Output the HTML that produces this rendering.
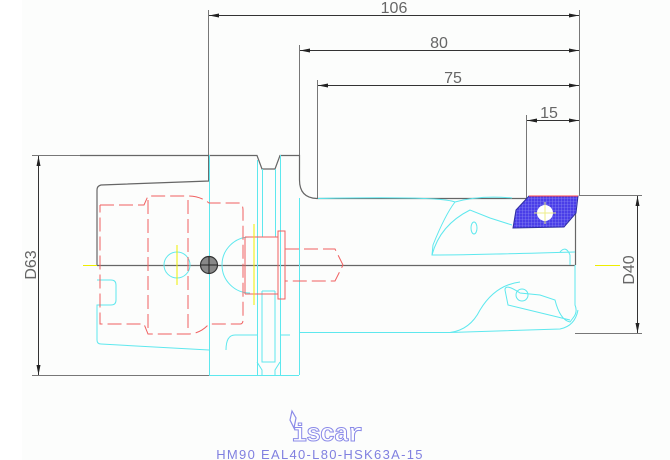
<!DOCTYPE html>
<html><head><style>body{margin:0;background:#fff}svg{display:block}</style></head><body>
<svg width="670" height="460" viewBox="0 0 670 460" xmlns="http://www.w3.org/2000/svg" font-family="Liberation Sans, sans-serif">
<rect x="22" y="0" width="648" height="460" fill="#fcfdfc"/>
<defs>
<marker id="a" viewBox="0 0 10 4" refX="10" refY="2" markerWidth="10" markerHeight="4" orient="auto-start-reverse" markerUnits="userSpaceOnUse"><path d="M0,0L10,2L0,4z" fill="#222"/></marker>
<pattern id="h" width="3" height="3" patternUnits="userSpaceOnUse"><rect width="3" height="3" fill="#4a3ee8"/><path d="M0,0H3M0,0V3" stroke="#9a9af5" stroke-width="0.6"/></pattern>
</defs>
<g stroke="#777" stroke-width="1" fill="none">
<path d="M208.5,10V181M299.5,45V160M317.5,80V198M526.5,115V198M579.5,10V196"/>
<path d="M32,155.5H110M32,375.5H209M579,195.5H642M575,333.5H642"/>
</g>
<g stroke="#333" stroke-width="1" fill="none">
<path d="M209,15.5H579" marker-start="url(#a)" marker-end="url(#a)"/>
<path d="M300,50.5H579" marker-start="url(#a)" marker-end="url(#a)"/>
<path d="M318,85.5H579" marker-start="url(#a)" marker-end="url(#a)"/>
<path d="M527,120.5H579" marker-start="url(#a)" marker-end="url(#a)"/>
<path d="M38.5,156V375" marker-start="url(#a)" marker-end="url(#a)"/>
<path d="M637.5,196V333" marker-start="url(#a)" marker-end="url(#a)"/>
</g>
<g fill="#666" font-size="16" text-anchor="middle">
<text x="394" y="13">106</text>
<text x="439" y="48">80</text>
<text x="453" y="83">75</text>
<text x="549" y="118">15</text>
<text transform="translate(36,265) rotate(-90)">D63</text>
<text transform="translate(634,270) rotate(-90)">D40</text>
</g>
<path d="M83,265.5H97M595,265.5H620" stroke="#ee0" stroke-width="1"/>
<path d="M97,265.5H575" stroke="#666" stroke-width="1.2"/>
<g stroke="#666" stroke-width="1.2" fill="none">
<path d="M80,155.5H257L262,169H275L280,155.5H299.5V180Q299.5,198 317,198.5H527"/>
<path d="M209,155V181L101,185Q97,186 97,190V265"/>
<path d="M575.5,198V265"/>
</g>
<g stroke="#5ee8ee" stroke-width="1" fill="none">
<path d="M209.5,155V375M257.5,160V375M262.5,169V237M275.5,169V237M280.5,155V375M299.5,198V375"/>
<path d="M262,291V362H275V291M262,237H275M262,291H275"/>
<path d="M257,362L262,370V375M280,362L275,370V375"/>
<path d="M209,375.5H299"/>
<path d="M97,280H111Q116,280 116,285V300Q116,305 111,305H97V340Q97,344 101,344L209,350"/>
<path d="M226,350Q226,335 235,335H257M280,335H290M299,332.5H450Q470,330 480,310Q495,285 520,282"/>
<circle cx="177" cy="265" r="13"/>
<path d="M250,237A28,28 0 0 0 250,293"/>
<path d="M318,198.5Q440,196 455,202Q445,215 433,245L432,255Q470,255 575,252"/>
<path d="M455,202Q480,195 512,198M432,255Q440,225 470,210L490,218L512,225"/>
<ellipse cx="474" cy="228" rx="3" ry="6"/>
<path d="M560,252Q566,245 570,255V265"/>
<path d="M575,265V305Q578,312 573,318L570,322Q560,320 555,300L540,295L520,293Q505,283 505,290L508,305L570,320"/>
<path d="M450,332.5L560,329Q575,326 578,310"/>
<circle cx="522" cy="295" r="6"/>
</g>
<g stroke="#f06060" stroke-width="1" fill="none" stroke-dasharray="14,5">
<path d="M100,205H144L148,196H188Q200,196 209,203H240Q243,205 243,210V320Q243,324 240,324H209Q200,334 188,334H148L144,324H100V205"/>
<path d="M148,200V330M188,200V330"/>
<path d="M285,249H335L343,265L335,281H285"/>
</g>
<g stroke="#f06060" stroke-width="1" fill="none">
<path d="M245,237H278V231H285V299H278V294H245"/>
<path d="M278,237V294"/>
<path d="M245,237V294"/>
</g>
<path d="M177,245V285M254,224V305" stroke="#ee0" stroke-width="1"/>
<circle cx="209" cy="265" r="8.5" fill="#888" stroke="#333" stroke-width="1.2"/>
<path d="M200.5,265H217.5M209,256.5V273.5" stroke="#222" stroke-width="1"/>
<path d="M529,196H578L576,213L564,227L513,228L516,210Z" fill="url(#h)" stroke="#3030a0" stroke-width="1"/>
<path d="M529,196H578" stroke="#f44" stroke-width="1"/>
<circle cx="545" cy="213" r="8" fill="#fff"/>
<path d="M534,213H556M545,202V224" stroke="#ee8" stroke-width="1"/>
<path d="M292,411L296,418L294,428L290,420Z" fill="none" stroke="#8a8ae8" stroke-width="1.2"/>
<text x="327" y="441" text-anchor="middle" font-size="25" font-weight="bold" fill="#fff" stroke="#8a8ae8" stroke-width="1" letter-spacing="-1" font-family="Liberation Mono, monospace">iscar</text>
<text x="320" y="459" text-anchor="middle" font-size="13" fill="#8080e0" letter-spacing="1.3">HM90 EAL40-L80-HSK63A-15</text>
</svg>
</body></html>
